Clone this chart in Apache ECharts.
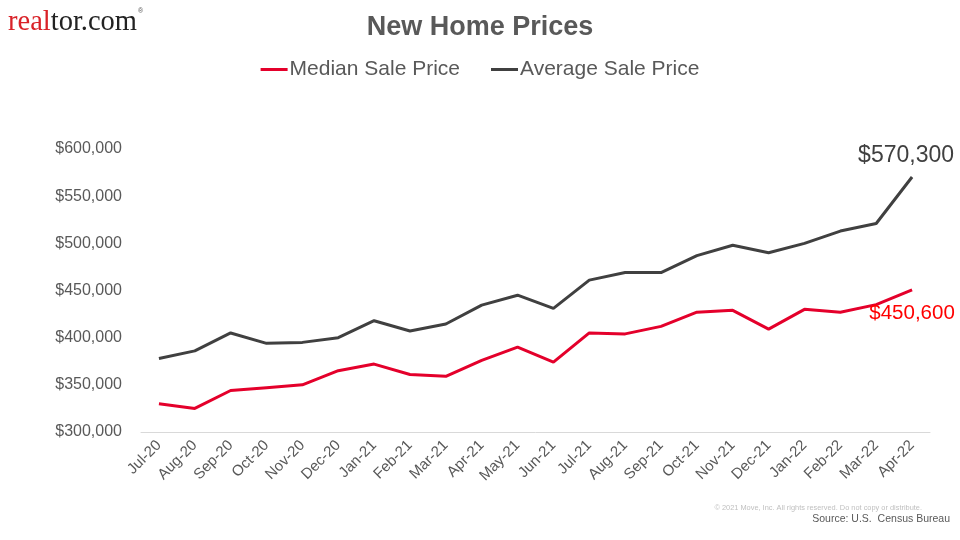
<!DOCTYPE html>
<html><head><meta charset="utf-8">
<script src="https://cdn.jsdelivr.net/npm/echarts@6/dist/echarts.min.js"></script>
<style>html,body{margin:0;padding:0;background:#fff}#c{width:960px;height:540px}</style>
</head><body><div id="c"></div>
<script>
var categories = ['Jul-20','Aug-20','Sep-20','Oct-20','Nov-20','Dec-20','Jan-21','Feb-21','Mar-21','Apr-21','May-21','Jun-21','Jul-21','Aug-21','Sep-21','Oct-21','Nov-21','Dec-21','Jan-22','Feb-22','Mar-22','Apr-22'];
var medianPrice = [330000,325000,344000,347000,350000,365000,372000,361000,359000,376000,390000,374000,405000,404000,412000,427000,429000,409000,430000,427000,435000,450600];
var averagePrice = [378000,386000,405000,394000,395000,400000,418000,407000,414500,434500,445000,431000,461000,469000,469000,487000,498000,490000,500000,513000,521000,570300];
var yTicks = {min:300000, max:600000, interval:50000};

function fmt(v){return '$' + v.toLocaleString('en-US');}
function withEndLabel(arr, labelCfg){
  return arr.map(function(v,i){
    return i === arr.length-1 ? {value:v, label:labelCfg} : v;
  });
}

var chart = echarts.init(document.getElementById('c'));
chart.setOption({
  animation:false,
  title:{text:'New Home Prices', left:'center', top:9,
    textStyle:{fontFamily:'Liberation Sans, Arial', fontSize:27, fontWeight:'bold', color:'#595959'}},
  legend:{top:54, left:'center', itemWidth:27, itemHeight:3, itemGap:31, icon:'rect',
    textStyle:{fontFamily:'Liberation Sans, Arial', fontSize:21, color:'#595959', padding:[0,0,0,-3]},
    data:['Median Sale Price','Average Sale Price']},
  grid:{left:141, right:30, top:149, bottom:108, containLabel:false},
  xAxis:{type:'category', data:categories, boundaryGap:true,
    axisLine:{lineStyle:{color:'#d9d9d9', width:1}},
    axisTick:{show:false},
    axisLabel:{rotate:45, interval:0, fontFamily:'Liberation Sans, Arial', fontSize:15, color:'#595959', margin:11}},
  yAxis:{type:'value', min:yTicks.min, max:yTicks.max, interval:yTicks.interval,
    splitLine:{show:false}, axisLine:{show:false}, axisTick:{show:false},
    axisLabel:{formatter:fmt, fontFamily:'Liberation Sans, Arial', fontSize:16, color:'#595959', margin:19}},
  series:[
    {name:'Median Sale Price', type:'line', symbol:'circle', symbolSize:0, showSymbol:true, z:3,
      itemStyle:{color:'#E4002B'}, lineStyle:{color:'#E4002B', width:3},
      data:withEndLabel(medianPrice,{show:true, position:'bottom', distance:13, offset:[0,0],
        formatter:function(p){return fmt(p.value);}, fontFamily:'Liberation Sans, Arial', fontSize:20.5, color:'#FF0000'})},
    {name:'Average Sale Price', type:'line', symbol:'circle', symbolSize:0, showSymbol:true, z:2,
      itemStyle:{color:'#404040'}, lineStyle:{color:'#404040', width:3},
      data:withEndLabel(averagePrice,{show:true, position:'top', distance:10, offset:[-6,0],
        formatter:function(p){return fmt(p.value);}, fontFamily:'Liberation Sans, Arial', fontSize:23, color:'#404040'})}
  ],
  graphic:[
    {type:'text', left:8, top:8, style:{
      text:'{r|real}{b|tor.com}{s|®}',
      rich:{
        r:{fontFamily:'Liberation Serif, Times New Roman, serif', fontSize:28.5, fill:'#D92228'},
        b:{fontFamily:'Liberation Serif, Times New Roman, serif', fontSize:28.5, fill:'#222222'},
        s:{fontFamily:'Liberation Sans, Arial', fontSize:7, fill:'#555555', verticalAlign:'top', padding:[0,0,16,1]}
      }}},
    {type:'text', right:38, top:504, style:{text:'© 2021 Move, Inc. All rights reserved. Do not copy or distribute.',
      fontFamily:'Liberation Sans, Arial', fontSize:7.4, fill:'#bfbfbf'}},
    {type:'text', right:10, top:514, style:{text:'Source: U.S.  Census Bureau',
      fontFamily:'Liberation Sans, Arial', fontSize:10.5, fill:'#595959'}}
  ]
});
</script></body></html>
